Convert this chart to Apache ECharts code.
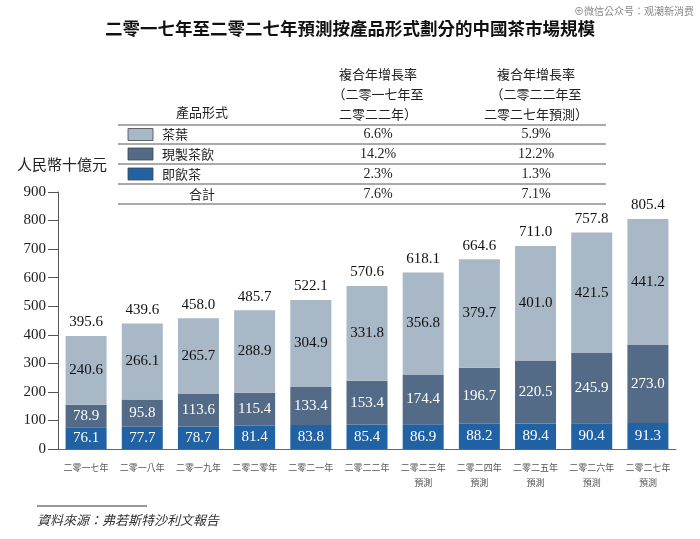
<!DOCTYPE html>
<html><head><meta charset="utf-8">
<script src="https://cdn.jsdelivr.net/npm/echarts@6/dist/echarts.min.js"></script>
<style>html,body{margin:0;padding:0;background:#fff}#c{width:700px;height:539px}</style>
</head><body><div id="c"></div>
<script>
const categories = ['二零一七年','二零一八年','二零一九年','二零二零年','二零二一年','二零二二年','二零二三年\n預測','二零二四年\n預測','二零二五年\n預測','二零二六年\n預測','二零二七年\n預測'];
const rtdTea = [76.1,77.7,78.7,81.4,83.8,85.4,86.9,88.2,89.4,90.4,91.3];
const freshTea = [78.9,95.8,113.6,115.4,133.4,153.4,174.4,196.7,220.5,245.9,273.0];
const leafTea = [240.6,266.1,265.7,288.9,304.9,331.8,356.8,379.7,401.0,421.5,441.2];
const totals = [395.6,439.6,458.0,485.7,522.1,570.6,618.1,664.6,711.0,757.8,805.4];
const yTicks = [0,100,200,300,400,500,600,700,800,900];
const rowNames = ['茶葉','現製茶飲','即飲茶','合計'];
const cagr1 = ['6.6%','14.2%','2.3%','7.6%'];
const cagr2 = ['5.9%','12.2%','1.3%','7.1%'];
const colors = ['#a9b8c7','#536b86','#2162a5'];

const serif = '"Liberation Serif","Noto Sans CJK TC",serif';
const cjk = '"Noto Sans CJK TC","Noto Sans CJK SC",sans-serif';

const chart = echarts.init(document.getElementById('c'));
const g = [];
g.push({type:'text',left:'center',top:20,style:{text:'二零一七年至二零二七年預測按產品形式劃分的中國茶市場規模',font:'bold 17.5px '+cjk,fill:'#111'}});
g.push({type:'text',right:6,top:6,style:{text:'⊕微信公众号：观潮新消费',font:'10px '+cjk,fill:'#888'}});
g.push({type:'text',x:378,y:64,style:{text:'複合年增長率\n（二零一七年至\n二零二二年）',font:'13px '+cjk,fill:'#222',align:'center',lineHeight:20}});
g.push({type:'text',x:536,y:64,style:{text:'複合年增長率\n（二零二二年至\n二零二七年預測）',font:'13px '+cjk,fill:'#222',align:'center',lineHeight:20}});
g.push({type:'text',x:202,y:106,style:{text:'產品形式',font:'13px '+cjk,fill:'#222',align:'center'}});
const lineY = [125,144,164,184,204];
lineY.forEach(y=>g.push({type:'line',shape:{x1:118,y1:y,x2:606,y2:y},style:{stroke:'#555',lineWidth:1}}));
rowNames.forEach((n,i)=>{
  const cy = (lineY[i]+lineY[i+1])/2;
  if(i<3){
    g.push({type:'rect',shape:{x:128,y:cy-6,width:25,height:12},style:{fill:colors[i],stroke:'#444',lineWidth:0.8}});
    g.push({type:'text',x:162,y:cy,style:{text:n,font:'13px '+cjk,fill:'#222',verticalAlign:'middle'}});
  } else {
    g.push({type:'text',x:202,y:cy,style:{text:n,font:'13px '+cjk,fill:'#222',align:'center',verticalAlign:'middle'}});
  }
  g.push({type:'text',x:378,y:cy,style:{text:cagr1[i],font:'14px '+serif,fill:'#222',align:'center',verticalAlign:'middle'}});
  g.push({type:'text',x:536,y:cy,style:{text:cagr2[i],font:'14px '+serif,fill:'#222',align:'center',verticalAlign:'middle'}});
});
g.push({type:'text',x:17,y:157,style:{text:'人民幣十億元',font:'15px '+cjk,fill:'#222'}});
g.push({type:'line',shape:{x1:37,y1:506,x2:147,y2:506},style:{stroke:'#333',lineWidth:1}});
g.push({type:'text',x:37,y:514,style:{text:'資料來源：弗若斯特沙利文報告',font:'italic 13px '+cjk,fill:'#333'}});

const mkSeries = (name,data,color,labelColor) => ({
  name,type:'bar',stack:'t',data,barCategoryGap:'27%',
  itemStyle:{color},
  label:{show:true,position:'inside',color:labelColor,fontFamily:serif,fontSize:15,formatter:p=>p.value.toFixed(1)}
});

chart.setOption({
  animation:false,
  graphic:g,
  grid:{left:58,right:24,top:192,bottom:90},
  xAxis:{type:'category',data:categories,
    axisLine:{lineStyle:{color:'#666'}},axisTick:{show:false},
    axisLabel:{fontSize:9,color:'#555',fontFamily:cjk,margin:11,lineHeight:15,interval:0}},
  yAxis:{type:'value',min:0,max:900,interval:100,
    axisLine:{show:true,lineStyle:{color:'#555'}},
    axisTick:{show:true,length:10,lineStyle:{color:'#555'}},
    splitLine:{show:false},
    axisLabel:{fontFamily:serif,fontSize:15,color:'#222',margin:12,formatter:v=>yTicks.includes(v)?String(v):''}},
  series:[
    mkSeries('即飲茶',rtdTea,colors[2],'#fff'),
    mkSeries('現製茶飲',freshTea,colors[1],'#fff'),
    mkSeries('茶葉',leafTea,colors[0],'#111'),
    {name:'total',type:'bar',stack:'t',data:totals.map(()=>0),itemStyle:{color:'transparent'},
      label:{show:true,position:'top',distance:6,color:'#111',fontFamily:serif,fontSize:15,
        formatter:p=>totals[p.dataIndex].toFixed(1)}}
  ]
});
</script></body></html>
